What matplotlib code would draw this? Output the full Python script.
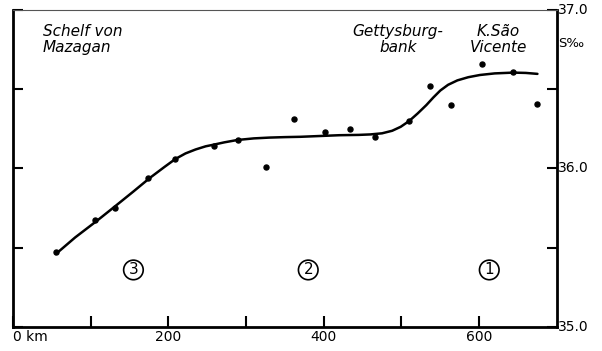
import numpy as np
import matplotlib.pyplot as plt

# measured stations: distance (km) and salinity (S per mille)
dist_km = [55, 106, 131, 174, 209, 259, 289, 325, 362, 402, 434, 466, 510, 537, 564, 604, 644, 674]
salinity = [35.47, 35.675, 35.75, 35.94, 36.06, 36.14, 36.18, 36.01, 36.31, 36.23,
            36.25, 36.20, 36.30, 36.52, 36.40, 36.66, 36.61, 36.41]

# hand-drawn mean curve
curve_km = [55, 80, 108, 131, 155, 176, 195, 209, 222, 235, 248, 258, 272, 289, 310, 330, 350,
            370, 395, 420, 445, 460, 475, 488, 499, 510, 521, 532, 541, 550, 560, 572,
            586, 601, 620, 644, 660, 675]
curve_s = [35.46, 35.565, 35.67, 35.76, 35.855, 35.94, 36.01, 36.06, 36.095, 36.12, 36.14,
           36.15, 36.165, 36.18, 36.19, 36.195, 36.198, 36.20, 36.205, 36.21, 36.212,
           36.215, 36.222, 36.238, 36.263, 36.30, 36.348, 36.40, 36.448, 36.492, 36.528,
           36.556, 36.576, 36.59, 36.60, 36.605, 36.603, 36.597]

regions = ["3", "2", "1"]
region_km = [155, 380, 613]
region_s = 35.36

fig = plt.figure(figsize=(6.02, 3.51), dpi=100)
ax = fig.add_axes([0.0216, 0.0684, 0.9034, 0.9031])

ax.plot(curve_km, curve_s, color="black", lw=1.8, solid_capstyle="round", solid_joinstyle="round")
ax.plot(dist_km, salinity, "o", color="black", ms=3.6)

ax.set_xlim(0, 700)
ax.set_ylim(35.0, 37.0)

# axes styling: thick black frame, faint top line
for side in ["left", "bottom", "right"]:
    ax.spines[side].set_linewidth(2)
    ax.spines[side].set_color("black")
ax.spines["top"].set_linewidth(0.8)
ax.spines["top"].set_color("#555555")

ax.set_xticks([0, 100, 200, 300, 400, 500, 600])
ax.set_xticklabels(["0 km", "", "200", "", "400", "", "600"], fontsize=10)
ax.xaxis.get_majorticklabels()[0].set_horizontalalignment("left")
ax.tick_params(axis="x", direction="in", length=8, width=1.5, pad=2)

ax.yaxis.tick_right()
ax.set_yticks([35.0, 35.5, 36.0, 36.5, 37.0])
ax.set_yticklabels(["35.0", "", "36.0", "", "37.0"], fontsize=10)
ax.tick_params(axis="y", which="both", direction="in", length=7, width=1.5,
               left=True, right=True, labelleft=False, labelright=True, pad=1)
for lab in ax.get_yticklabels():
    lab.set_verticalalignment("center")

ax.text(1.003, 0.895, "S‰", transform=ax.transAxes, fontsize=9.5, ha="left", va="center")

ax.text(0.055, 0.955, "Schelf von\nMazagan", transform=ax.transAxes, fontsize=11,
        style="italic", ha="left", va="top", linespacing=1.1)
ax.text(0.708, 0.955, "Gettysburg-\nbank", transform=ax.transAxes, fontsize=11,
        style="italic", ha="center", va="top", linespacing=1.1)
ax.text(0.893, 0.955, "K.São\nVicente", transform=ax.transAxes, fontsize=11,
        style="italic", ha="center", va="top", linespacing=1.1)

for lab, x in zip(regions, region_km):
    ax.text(x, region_s, lab, fontsize=11, ha="center", va="center",
            bbox=dict(boxstyle="circle,pad=0.15", fc="none", ec="black", lw=1.2))

fig.savefig("out.png", dpi=100)
